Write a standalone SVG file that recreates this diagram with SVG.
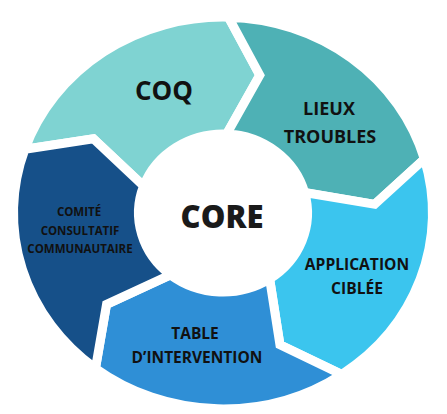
<svg xmlns="http://www.w3.org/2000/svg" width="447" height="414" viewBox="0 0 447 414">
<style>
.seg{stroke:#ffffff;stroke-width:9;stroke-linejoin:miter;stroke-miterlimit:10;vector-effect:non-scaling-stroke}
.lbl{font-family:"Open Sans","Noto Sans","Liberation Sans",sans-serif;font-weight:700;fill:#111111;text-anchor:middle}
.core{font-family:"Open Sans","Noto Sans","Liberation Sans",sans-serif;font-weight:800;fill:#1a1a1a;text-anchor:middle}
</style>
<rect width="447" height="414" fill="#ffffff"/>
<g id="coq">
<path class="seg" fill="#7fd3d2" transform="translate(223,213) scale(1,0.935)" d="M -198.09,-68.21 A 209.5 209.5 0 0 1 5.48,-209.43 L 36.77,-147.49 L 3.69,-84.42 A 84.5 84.5 0 0 0 -79.40,-28.90 L -129.60,-79.42 Z"/>
<text class="lbl" x="164" y="100" font-size="26">COQ</text>
</g>
<g id="lieux-troubles">
<path class="seg" fill="#4eb1b5" transform="translate(223,213) scale(1,0.935)" d="M 5.48,-209.43 A 209.5 209.5 0 0 1 201.38,-57.75 L 151.72,-9.28 L 81.62,-21.87 A 84.5 84.5 0 0 0 3.69,-84.42 L 36.77,-147.49 Z"/>
<text class="lbl" x="329" y="115" font-size="18">LIEUX</text>
<text class="lbl" x="330" y="143" font-size="18">TROUBLES</text>
</g>
<g id="application-ciblee">
<path class="seg" fill="#3bc5ee" transform="translate(223,213) scale(1,0.935)" d="M 201.38,-57.75 A 209.5 209.5 0 0 1 118.66,172.66 L 56.94,140.93 L 46.64,70.46 A 84.5 84.5 0 0 0 81.62,-21.87 L 151.72,-9.28 Z"/>
<text class="lbl" x="357" y="270" font-size="15.6">APPLICATION</text>
<text class="lbl" x="357" y="294" font-size="15.6">CIBLÉE</text>
</g>
<g id="table-intervention">
<path class="seg" fill="#2f8fd6" transform="translate(223,213) scale(1,0.935)" d="M 118.66,172.66 A 209.5 209.5 0 0 1 -127.54,166.21 L -116.44,97.70 L -52.60,66.13 A 84.5 84.5 0 0 0 46.64,70.46 L 56.94,140.93 Z"/>
<text class="lbl" x="195" y="339" font-size="15.5">TABLE</text>
<text class="lbl" x="197" y="363" font-size="15.5">D’INTERVENTION</text>
</g>
<g id="comite-consultatif">
<path class="seg" fill="#165089" transform="translate(223,213) scale(1,0.935)" d="M -127.54,166.21 A 209.5 209.5 0 0 1 -198.09,-68.21 L -129.60,-79.42 L -79.40,-28.90 A 84.5 84.5 0 0 0 -52.60,66.13 L -116.44,97.70 Z"/>
<text class="lbl" x="79" y="216" font-size="11.5">COMITÉ</text>
<text class="lbl" x="80" y="235" font-size="11.5">CONSULTATIF</text>
<text class="lbl" x="80" y="253" font-size="11.5">COMMUNAUTAIRE</text>
</g>
<g id="core">
<text class="core" x="222" y="228" font-size="31">CORE</text>
</g>
<g id="connectors"/>
</svg>
